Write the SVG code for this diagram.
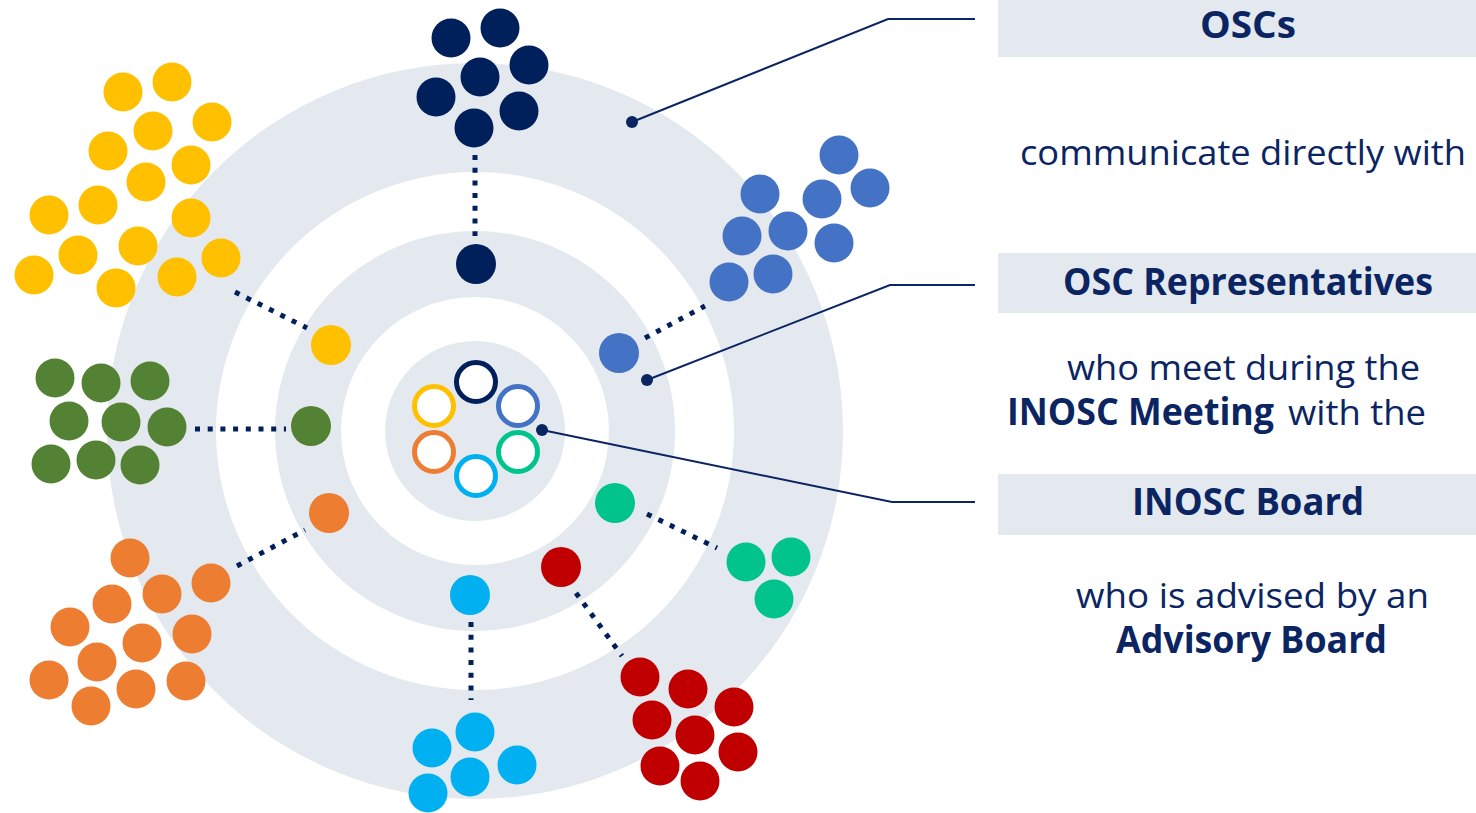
<svg xmlns="http://www.w3.org/2000/svg" width="1476" height="813" viewBox="0 0 1476 813">
<style>
.ring{fill:#e4e8ef}
.hole{fill:#ffffff}
.band{fill:#e4e8ef}
.dots{fill:none;stroke:#00205b;stroke-width:5;stroke-dasharray:5 7.7}
.lead{fill:none;stroke:#0b2462;stroke-width:2}
.ldot{fill:#0b2462}
.b{font-family:"Open Sans","Liberation Sans",sans-serif;font-weight:700;font-size:37px;fill:#0b2462}
.r{font-family:"Open Sans","Liberation Sans",sans-serif;font-weight:400;font-size:35px;fill:#0b2462}
.yel{fill:#ffc000}.nav{fill:#00205b}.blu{fill:#4472c4}.grn{fill:#548235}.org{fill:#ed7d31}.tea{fill:#00c48c}.red{fill:#c00000}.lbl{fill:#00b0f0}
.ir{fill:#ffffff;stroke-width:5}
</style>
<g id="rings">
<circle class="ring" cx="475" cy="431" r="368"/>
<circle class="hole" cx="475" cy="431" r="259"/>
<circle class="ring" cx="475" cy="431" r="200"/>
<circle class="hole" cx="475" cy="431" r="134"/>
<circle class="ring" cx="475" cy="431" r="90"/>
</g>
<g id="connectors">
<line class="dots" x1="475" y1="155" x2="475" y2="236"/>
<line class="dots" x1="235" y1="292" x2="307" y2="328"/>
<line class="dots" x1="195" y1="429" x2="286" y2="429"/>
<line class="dots" x1="237" y1="566" x2="305" y2="530"/>
<line class="dots" x1="645" y1="338" x2="705" y2="306"/>
<line class="dots" x1="647" y1="514" x2="717" y2="548"/>
<line class="dots" x1="576" y1="593" x2="622" y2="656"/>
<line class="dots" x1="471" y1="622" x2="471" y2="700"/>
<polyline class="lead" points="632,122 888,19 975,19"/>
<circle class="ldot" cx="632" cy="122" r="6"/>
<polyline class="lead" points="647,380 890,285 975,285"/>
<circle class="ldot" cx="647" cy="380" r="6"/>
<polyline class="lead" points="542,430 892,502 975,502"/>
<circle class="ldot" cx="542" cy="430" r="6"/>
</g>
<g id="osc-navy" class="nav">
<circle cx="451" cy="38" r="19.5"/><circle cx="500" cy="28" r="19.5"/><circle cx="529" cy="65" r="19.5"/>
<circle cx="480" cy="77" r="19.5"/><circle cx="436" cy="97" r="19.5"/><circle cx="519" cy="111" r="19.5"/>
<circle cx="474" cy="128" r="19.5"/>
<circle cx="476" cy="264" r="20"/>
</g>
<g id="osc-yellow" class="yel">
<circle cx="123" cy="92" r="19.5"/><circle cx="172" cy="82" r="19.5"/><circle cx="212" cy="122" r="19.5"/>
<circle cx="153" cy="131" r="19.5"/><circle cx="108" cy="151" r="19.5"/><circle cx="191" cy="165" r="19.5"/>
<circle cx="146" cy="182" r="19.5"/><circle cx="49" cy="215" r="19.5"/><circle cx="98" cy="205" r="19.5"/>
<circle cx="191" cy="218" r="19.5"/><circle cx="78" cy="255" r="19.5"/><circle cx="138" cy="246" r="19.5"/>
<circle cx="221" cy="258" r="19.5"/><circle cx="34" cy="275" r="19.5"/><circle cx="116" cy="288" r="19.5"/>
<circle cx="177" cy="277" r="19.5"/>
<circle cx="331" cy="345" r="20"/>
</g>
<g id="osc-green" class="grn">
<circle cx="55" cy="378" r="19.5"/><circle cx="101" cy="383" r="19.5"/><circle cx="150" cy="381" r="19.5"/>
<circle cx="69" cy="421" r="19.5"/><circle cx="121" cy="422" r="19.5"/><circle cx="167" cy="427" r="19.5"/>
<circle cx="51" cy="464" r="19.5"/><circle cx="96" cy="460" r="19.5"/><circle cx="140" cy="465" r="19.5"/>
<circle cx="311" cy="426" r="20"/>
</g>
<g id="osc-orange" class="org">
<circle cx="130" cy="558" r="19.5"/><circle cx="162" cy="594" r="19.5"/><circle cx="211" cy="583" r="19.5"/>
<circle cx="112" cy="604" r="19.5"/><circle cx="70" cy="627" r="19.5"/><circle cx="142" cy="643" r="19.5"/>
<circle cx="192" cy="634" r="19.5"/><circle cx="97" cy="662" r="19.5"/><circle cx="49" cy="680" r="19.5"/>
<circle cx="136" cy="689" r="19.5"/><circle cx="186" cy="681" r="19.5"/><circle cx="91" cy="706" r="19.5"/>
<circle cx="329" cy="513" r="20"/>
</g>
<g id="osc-blue" class="blu">
<circle cx="839" cy="155" r="19.5"/><circle cx="870" cy="188" r="19.5"/><circle cx="822" cy="199" r="19.5"/>
<circle cx="760" cy="194" r="19.5"/><circle cx="742" cy="236" r="19.5"/><circle cx="788" cy="231" r="19.5"/>
<circle cx="834" cy="243" r="19.5"/><circle cx="729" cy="282" r="19.5"/><circle cx="773" cy="274" r="19.5"/>
<circle cx="619" cy="353" r="20"/>
</g>
<g id="osc-teal" class="tea">
<circle cx="746" cy="562" r="19.5"/><circle cx="791" cy="557" r="19.5"/><circle cx="774" cy="599" r="19.5"/>
<circle cx="615" cy="503" r="20"/>
</g>
<g id="osc-red" class="red">
<circle cx="640" cy="677" r="19.5"/><circle cx="688" cy="689" r="19.5"/><circle cx="734" cy="707" r="19.5"/>
<circle cx="652" cy="720" r="19.5"/><circle cx="695" cy="735" r="19.5"/><circle cx="738" cy="752" r="19.5"/>
<circle cx="660" cy="766" r="19.5"/><circle cx="700" cy="781" r="19.5"/>
<circle cx="561" cy="567" r="20"/>
</g>
<g id="osc-lightblue" class="lbl">
<circle cx="475" cy="732" r="19.5"/><circle cx="432" cy="748" r="19.5"/><circle cx="517" cy="765" r="19.5"/>
<circle cx="470" cy="777" r="19.5"/><circle cx="428" cy="793" r="19.5"/>
<circle cx="470" cy="595" r="20"/>
</g>
<g id="board">
<circle class="ir" cx="476" cy="382" r="19.5" stroke="#00205b"/>
<circle class="ir" cx="434" cy="406" r="19.5" stroke="#ffc000"/>
<circle class="ir" cx="518" cy="406" r="19.5" stroke="#4472c4"/>
<circle class="ir" cx="434" cy="452" r="19.5" stroke="#ed7d31"/>
<circle class="ir" cx="518" cy="452" r="19.5" stroke="#00c48c"/>
<circle class="ir" cx="476" cy="476" r="19.5" stroke="#00b0f0"/>
</g>
<g id="label-oscs">
<rect class="band" x="998" y="0" width="478" height="57"/>
<text class="b" x="1200" y="38" font-size="34" textLength="96" lengthAdjust="spacingAndGlyphs">OSCs</text>
<text class="r" x="1020" y="165" textLength="446" lengthAdjust="spacingAndGlyphs">communicate directly with</text>
</g>
<g id="label-reps">
<rect class="band" x="998" y="253" width="478" height="60"/>
<text class="b" x="1063" y="295" textLength="370" lengthAdjust="spacingAndGlyphs">OSC Representatives</text>
<text class="r" x="1067" y="380" textLength="353" lengthAdjust="spacingAndGlyphs">who meet during the</text>
<text class="b" x="1007" y="425" textLength="267" lengthAdjust="spacingAndGlyphs">INOSC Meeting</text>
<text class="r" x="1288" y="425" textLength="138" lengthAdjust="spacingAndGlyphs">with the</text>
</g>
<g id="label-board">
<rect class="band" x="998" y="474" width="478" height="61"/>
<text class="b" x="1132" y="515" textLength="232" lengthAdjust="spacingAndGlyphs">INOSC Board</text>
<text class="r" x="1076" y="608" textLength="353" lengthAdjust="spacingAndGlyphs">who is advised by an</text>
<text class="b" x="1116" y="653" textLength="271" lengthAdjust="spacingAndGlyphs">Advisory Board</text>
</g>
</svg>
